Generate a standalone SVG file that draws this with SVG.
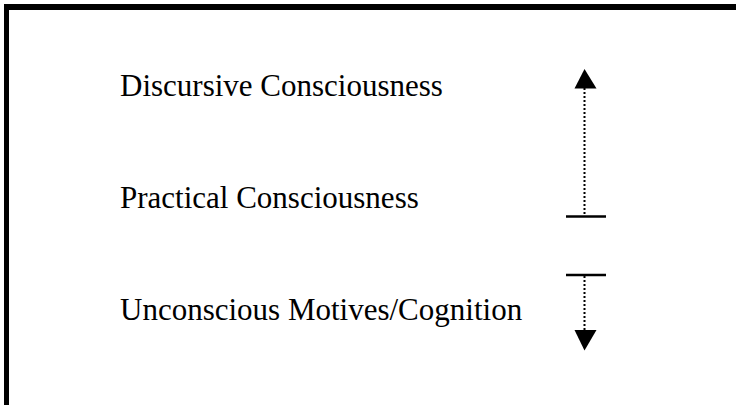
<svg xmlns="http://www.w3.org/2000/svg" width="736" height="405" viewBox="0 0 736 405">
<style>
.lbl{font-family:"Liberation Serif","Times New Roman",serif;font-size:31px;fill:#000}
.dot{stroke:#000;stroke-width:2;stroke-dasharray:2 2;fill:none}
.bar{stroke:#000;stroke-width:2.5;fill:none}
</style>
<rect x="0" y="0" width="736" height="405" fill="#fff"/>
<g id="frame">
<rect x="4" y="4" width="732" height="6" fill="#000"/>
<rect x="4" y="4" width="5" height="401" fill="#000"/>
</g>
<g id="discursive"><text class="lbl" x="120" y="96">Discursive Consciousness</text></g>
<g id="practical"><text class="lbl" x="120" y="208">Practical Consciousness</text></g>
<g id="unconscious"><text class="lbl" x="120" y="320">Unconscious Motives/Cognition</text></g>
<g id="connectors">
<line class="dot" x1="584.5" y1="88" x2="584.5" y2="216"/>
<polygon points="584.5,69 574.5,88.5 596.5,88.5" fill="#000"/>
<line class="bar" x1="566" y1="216.5" x2="606" y2="216.5"/>
<line class="bar" x1="566" y1="275" x2="606" y2="275"/>
<line class="dot" x1="584.5" y1="276" x2="584.5" y2="330"/>
<polygon points="574.5,330 596.5,330 584.5,350.5" fill="#000"/>
</g>
</svg>
